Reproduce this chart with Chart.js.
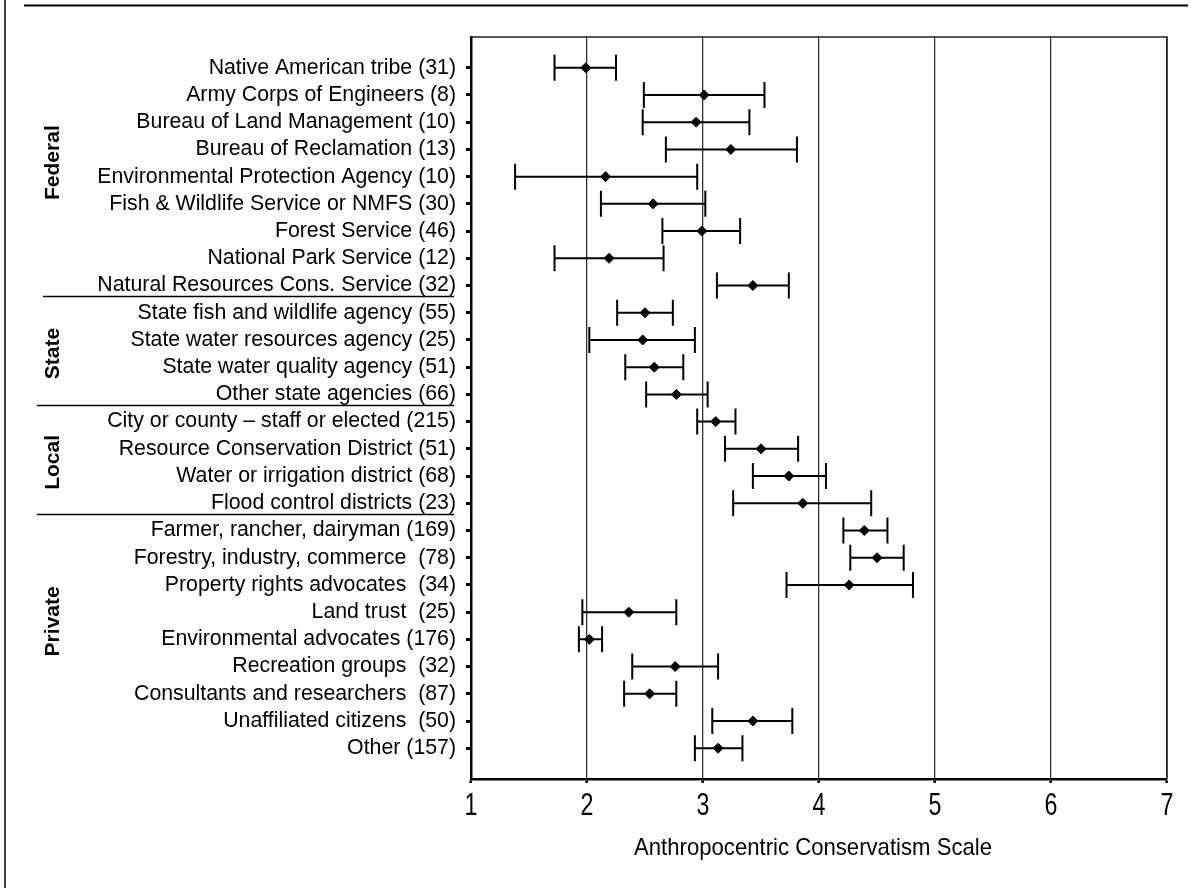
<!DOCTYPE html>
<html>
<head>
<meta charset="utf-8">
<script src="https://cdn.jsdelivr.net/npm/chart.js@4.4.1/dist/chart.umd.min.js"></script>
<style>
  body { margin: 0; background: #fff; }
  #wrap { position: relative; width: 1191px; height: 888px; }
</style>
</head>
<body>
<div id="wrap"><canvas id="myChart"></canvas></div>
<script>
'use strict';

// respondent groups (y axis), top to bottom
const categories = [
  'Native American tribe (31)',
  'Army Corps of Engineers (8)',
  'Bureau of Land Management (10)',
  'Bureau of Reclamation (13)',
  'Environmental Protection Agency (10)',
  'Fish & Wildlife Service or NMFS (30)',
  'Forest Service (46)',
  'National Park Service (12)',
  'Natural Resources Cons. Service (32)',
  'State fish and wildlife agency (55)',
  'State water resources agency (25)',
  'State water quality agency (51)',
  'Other state agencies (66)',
  'City or county – staff or elected (215)',
  'Resource Conservation District (51)',
  'Water or irrigation district (68)',
  'Flood control districts (23)',
  'Farmer, rancher, dairyman (169)',
  'Forestry, industry, commerce  (78)',
  'Property rights advocates  (34)',
  'Land trust  (25)',
  'Environmental advocates (176)',
  'Recreation groups  (32)',
  'Consultants and researchers  (87)',
  'Unaffiliated citizens  (50)',
  'Other (157)'
];

// mean score and error bar ends
const means = [1.99, 3.01, 2.94, 3.24, 2.16, 2.57, 2.99, 2.19, 3.43, 2.50, 2.48, 2.58, 2.77,
  3.11, 3.50, 3.74, 3.86, 4.39, 4.50, 4.26, 2.36, 2.02, 2.76, 2.54, 3.43, 3.13];
const lows = [1.72, 2.49, 2.48, 2.68, 1.38, 2.12, 2.65, 1.72, 3.12, 2.26, 2.02, 2.33, 2.51,
  2.95, 3.19, 3.43, 3.26, 4.21, 4.27, 3.72, 1.96, 1.93, 2.39, 2.32, 3.08, 2.93];
const highs = [2.25, 3.53, 3.40, 3.81, 2.95, 3.02, 3.32, 2.66, 3.74, 2.74, 2.93, 2.83, 3.04,
  3.28, 3.82, 4.06, 4.45, 4.59, 4.73, 4.81, 2.77, 2.13, 3.13, 2.77, 3.77, 3.34];

// side group labels and how many rows each covers
const groupNames = ['Federal', 'State', 'Local', 'Private'];
const groupSizes = [9, 4, 4, 9];

// x axis
const xTicks = [1, 2, 3, 4, 5, 6, 7];
const xTitle = 'Anthropocentric Conservatism Scale';

const sans = "'Liberation Sans', Arial, sans-serif";

// ************ PLUGINS

// error bars with end caps, drawn under the diamonds
const errorBars = {
  id: 'errorBars',
  beforeDatasetsDraw(chart) {
    const ctx = chart.ctx;
    const xs = chart.scales.x;
    const ys = chart.scales.y;
    ctx.save();
    ctx.strokeStyle = '#000';
    ctx.lineWidth = 2;
    for (let i = 0; i < means.length; i++) {
      let y = ys.getPixelForValue(i);
      let x1 = xs.getPixelForValue(lows[i]);
      let x2 = xs.getPixelForValue(highs[i]);
      ctx.beginPath();
      ctx.moveTo(x1, y);
      ctx.lineTo(x2, y);
      ctx.moveTo(x1, y - 13);
      ctx.lineTo(x1, y + 13);
      ctx.moveTo(x2, y - 13);
      ctx.lineTo(x2, y + 13);
      ctx.stroke();
    }
    ctx.restore();
  }
};

// squeezed text like the original (narrow tick numbers and axis title)
function narrowText(ctx, text, x, y, font, squeeze) {
  ctx.save();
  ctx.font = font;
  ctx.translate(x, y);
  ctx.scale(squeeze, 1);
  ctx.fillText(text, 0, 0);
  ctx.restore();
}

// frame, plot border, group separators, rotated group names, x labels
const decorations = {
  id: 'decorations',
  afterDraw(chart) {
    const ctx = chart.ctx;
    const a = chart.chartArea;
    const xs = chart.scales.x;
    const ys = chart.scales.y;
    ctx.save();
    // top and right edges of the plot box
    ctx.strokeStyle = '#222';
    ctx.lineWidth = 1.5;
    ctx.beginPath();
    ctx.moveTo(a.left, a.top);
    ctx.lineTo(a.right, a.top);
    ctx.lineTo(a.right, a.bottom);
    ctx.stroke();

    // outer frame pieces
    ctx.strokeStyle = '#000';
    ctx.lineWidth = 2;
    ctx.beginPath();
    ctx.moveTo(24, 5.5);
    ctx.lineTo(1188, 5.5);
    ctx.stroke();
    ctx.lineWidth = 1.5;
    ctx.beginPath();
    ctx.moveTo(5, 0);
    ctx.lineTo(5, 888);
    ctx.stroke();

    // separators between groups
    let start = 0;
    ctx.lineWidth = 1.5;
    for (let g = 0; g < groupSizes.length; g++) {
      let end = start + groupSizes[g];
      if (g < groupSizes.length - 1) {
        let y = Math.round(ys.getPixelForValue(end - 0.5) - 3) + 0.5;
        ctx.beginPath();
        ctx.moveTo(g === 0 ? 43 : 37, y);
        ctx.lineTo(454, y);
        ctx.stroke();
      }
      // group name, rotated
      let mid = (ys.getPixelForValue(start) + ys.getPixelForValue(end - 1)) / 2;
      if (g === 0) mid -= 14;
      if (g === 3) mid -= 18;
      ctx.save();
      ctx.translate(53, mid);
      ctx.rotate(-Math.PI / 2);
      ctx.fillStyle = '#000';
      ctx.font = 'bold 21px ' + sans;
      ctx.textAlign = 'center';
      ctx.textBaseline = 'middle';
      ctx.fillText(groupNames[g], 0, 0);
      ctx.restore();
      start = end;
    }

    // x tick numbers
    ctx.fillStyle = '#000';
    ctx.textAlign = 'center';
    ctx.textBaseline = 'alphabetic';
    for (let i = 0; i < xTicks.length; i++) {
      narrowText(ctx, String(xTicks[i]), xs.getPixelForValue(xTicks[i]), 815, '31px ' + sans, 0.75);
    }

    // x axis title
    ctx.font = '24px ' + sans;
    let w = ctx.measureText(xTitle).width;
    narrowText(ctx, xTitle, (a.left + a.right) / 2 - 6, 855, '24px ' + sans, 358 / w);
    ctx.restore();
  }
};

// ************ CHART

const ctx = document.getElementById('myChart').getContext('2d');

const points = means.map((m, i) => ({ x: m, y: i }));

const chartObj = {
  type: 'scatter',
  data: {
    datasets: [{
      data: points,
      pointStyle: 'rectRot',
      pointRadius: 5,
      backgroundColor: '#000',
      borderColor: '#000',
      borderWidth: 1
    }]
  },
  options: {
    responsive: true,
    maintainAspectRatio: false,
    animation: false,
    events: [],
    layout: { padding: { top: 37, right: 24, left: 0, bottom: 0 } },
    plugins: {
      legend: { display: false },
      tooltip: { enabled: false }
    },
    scales: {
      x: {
        type: 'linear',
        min: xTicks[0],
        max: xTicks[xTicks.length - 1],
        afterBuildTicks: (scale) => { scale.ticks = xTicks.map(v => ({ value: v })); },
        afterFit: (scale) => { scale.height = 109; },
        ticks: { display: false },
        grid: {
          color: '#333',
          lineWidth: 1.3,
          tickLength: 4,
          tickWidth: 2.5,
          tickColor: '#000'
        },
        border: { color: '#000', width: 2.5 },
        title: { display: false }
      },
      y: {
        type: 'linear',
        reverse: true,
        min: -1.13,
        max: 26.13,
        afterBuildTicks: (scale) => { scale.ticks = categories.map((c, i) => ({ value: i })); },
        afterFit: (scale) => { scale.width = 471; },
        ticks: {
          color: '#000',
          font: { family: sans, size: 21.3 },
          padding: 10,
          callback: (v) => categories[v]
        },
        grid: {
          drawOnChartArea: false,
          tickLength: 5,
          tickWidth: 3,
          tickColor: '#000'
        },
        border: { color: '#000', width: 2.5 }
      }
    }
  },
  plugins: [errorBars, decorations]
};

const myChart = new Chart(ctx, chartObj); // eslint-disable-line
</script>
</body>
</html>
